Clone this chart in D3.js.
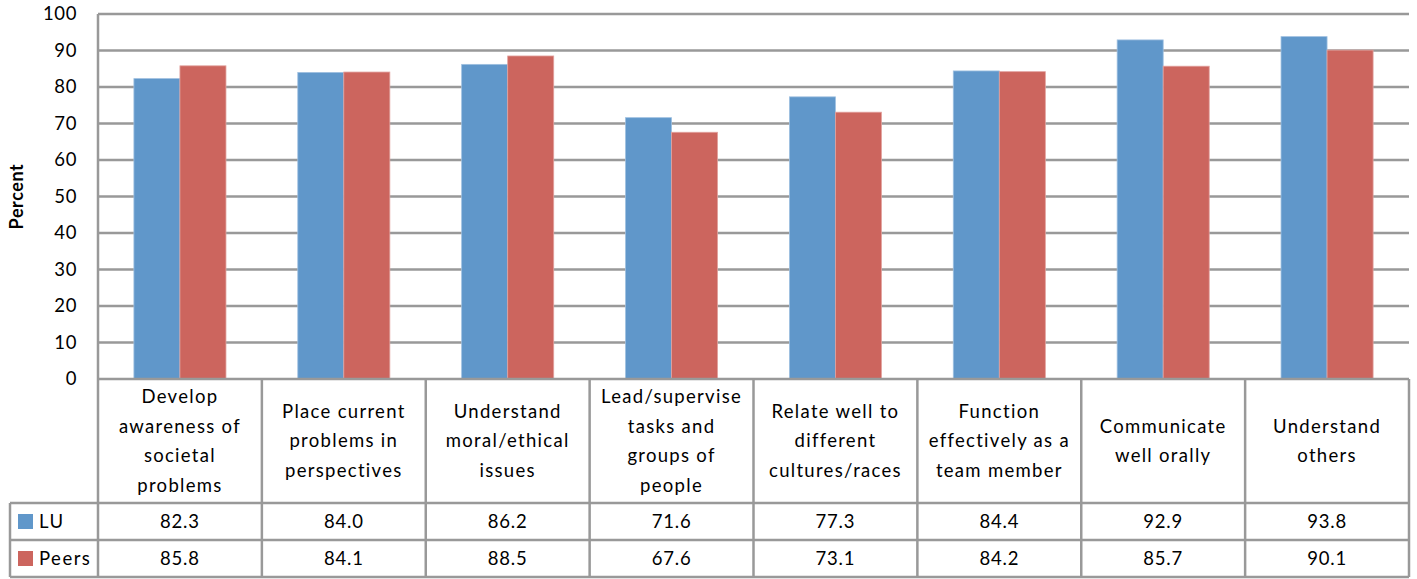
<!DOCTYPE html>
<html>
<head>
<meta charset="utf-8">
<script src="https://cdn.jsdelivr.net/npm/d3@7"></script>
<style>
  body { margin: 0; background: #fff; }
  svg text { font-family: Lato, "Open Sans", sans-serif; fill: #000; }
</style>
</head>
<body>
<div class="chart"></div>
<script>
// chart data
let categories = [
  ["Develop", "awareness of", "societal", "problems"],
  ["Place current", "problems in", "perspectives"],
  ["Understand", "moral/ethical", "issues"],
  ["Lead/supervise", "tasks and", "groups of", "people"],
  ["Relate well to", "different", "cultures/races"],
  ["Function", "effectively as a", "team member"],
  ["Communicate", "well orally"],
  ["Understand", "others"]
];
let series   = ["LU", "Peers"];
let luValues    = [82.3, 84.0, 86.2, 71.6, 77.3, 84.4, 92.9, 93.8];
let peersValues = [85.8, 84.1, 88.5, 67.6, 73.1, 84.2, 85.7, 90.1];
let yTicks = [0, 10, 20, 30, 40, 50, 60, 70, 80, 90, 100];
let colors = ["#6097CA", "#CC655E"];

let width = 1417,
    height = 579;

let plotLeft = 98, plotRight = 1409, plotTop = 14, axisY = 379;
let headerBottom = 503, row1Bottom = 540, row2Bottom = 577, tableLeft = 10;
let gridColor = "#999";

let plot = d3.select('.chart').append('svg')
    .attr("width", width)
    .attr("height", height)
    .attr("viewBox", [0, 0, width, height]);

let keys = categories.map((c, i) => i);
let values = [luValues, peersValues];

let x0 = d3.scaleBand().domain(keys).range([plotLeft, plotRight]).padding(0);
let x1 = d3.scaleBand().domain(series).range([0, x0.bandwidth()])
    .paddingInner(0).paddingOuter(0.78);
let y = d3.scaleLinear().domain([0, 100]).range([axisY, plotTop]);

// gridlines
plot.append("g")
    .selectAll("line")
    .data(yTicks.filter(d => d > 0))
    .join("line")
    .attr("x1", plotLeft).attr("x2", plotRight)
    .attr("y1", d => y(d)).attr("y2", d => y(d))
    .attr("stroke", gridColor)
    .attr("stroke-width", 2.5);

// bars
plot.append("g")
    .selectAll("g")
    .data(keys)
    .join("g")
    .attr("transform", d => `translate(${x0(d)},0)`)
    .selectAll("rect")
    .data(i => series.map((s, j) => ({s: s, j: j, v: values[j][i]})))
    .join("rect")
    .attr("x", d => x1(d.s))
    .attr("y", d => y(d.v))
    .attr("width", x1.bandwidth())
    .attr("height", d => y(0) - y(d.v))
    .attr("fill", d => colors[d.j])
    .attr("stroke", d => d.j === 0 ? "#9fc0e0" : "#e2a29e")
    .attr("stroke-width", 0.8);

// y axis labels
let yAxis = d3.axisLeft(y).tickValues(yTicks).tickSize(0).tickPadding(21);
plot.append("g")
    .attr("transform", `translate(${plotLeft},0)`)
    .call(yAxis)
    .call(g => g.select(".domain").remove())
    .selectAll("text")
    .style("font-family", "Lato, 'Open Sans', sans-serif")
    .style("font-size", "18.5px")
    .style("letter-spacing", "0.6px")
    .attr("fill", "#000");

plot.append("text")
    .attr("transform", `translate(23,${(plotTop + axisY) / 2}) rotate(-90)`)
    .attr("text-anchor", "middle")
    .style("font-size", "18px")
    .style("font-weight", "bold")
    .style("letter-spacing", "0.6px")
    .text("Percent");

// table lines
let lines = plot.append("g")
    .attr("stroke", gridColor)
    .attr("stroke-width", 2.5)
    .attr("fill", "none");

// left plot border
lines.append("line")
    .attr("x1", plotLeft).attr("x2", plotLeft)
    .attr("y1", plotTop).attr("y2", row2Bottom);

// horizontal table lines
[[plotLeft, axisY], [tableLeft, headerBottom], [tableLeft, row1Bottom], [tableLeft, row2Bottom]]
  .forEach(([xs, yy]) => {
    lines.append("line")
      .attr("x1", xs).attr("x2", plotRight)
      .attr("y1", yy).attr("y2", yy);
  });

// table left border
lines.append("line")
    .attr("x1", tableLeft).attr("x2", tableLeft)
    .attr("y1", headerBottom).attr("y2", row2Bottom);

// column separators
lines.selectAll("line.col")
    .data(keys)
    .join("line")
    .attr("class", "col")
    .attr("x1", d => x0(d) + x0.bandwidth())
    .attr("x2", d => x0(d) + x0.bandwidth())
    .attr("y1", axisY).attr("y2", row2Bottom);

// category labels
let lineH = 29.5;
let headerMid = (axisY + headerBottom) / 2;
plot.append("g")
    .selectAll("text")
    .data(keys)
    .join("text")
    .attr("text-anchor", "middle")
    .style("font-size", "18.5px")
    .style("letter-spacing", "1.3px")
    .each(function(i) {
      let t = d3.select(this);
      let ls = categories[i];
      let y0 = headerMid - (ls.length - 1) * lineH / 2;
      ls.forEach((s, k) => {
        t.append("tspan")
          .attr("x", x0(i) + x0.bandwidth() / 2)
          .attr("y", y0 + k * lineH)
          .attr("dy", "0.35em")
          .text(s);
      });
    });

// value rows
let rowMids = [(headerBottom + row1Bottom) / 2, (row1Bottom + row2Bottom) / 2];
series.forEach((s, j) => {
  plot.append("g")
    .selectAll("text")
    .data(keys)
    .join("text")
    .attr("x", d => x0(d) + x0.bandwidth() / 2)
    .attr("y", rowMids[j])
    .attr("dy", "0.35em")
    .attr("text-anchor", "middle")
    .style("font-size", "18.5px")
    .style("letter-spacing", "0.8px")
    .text(d => values[j][d].toFixed(1));

  plot.append("rect")
    .attr("x", 18).attr("y", rowMids[j] - 7.5)
    .attr("width", 15).attr("height", 15)
    .attr("fill", colors[j]);

  plot.append("text")
    .attr("x", 39).attr("y", rowMids[j])
    .attr("dy", "0.35em")
    .style("font-size", "18.5px")
    .style("letter-spacing", "1.5px")
    .text(s);
});
</script>
</body>
</html>
